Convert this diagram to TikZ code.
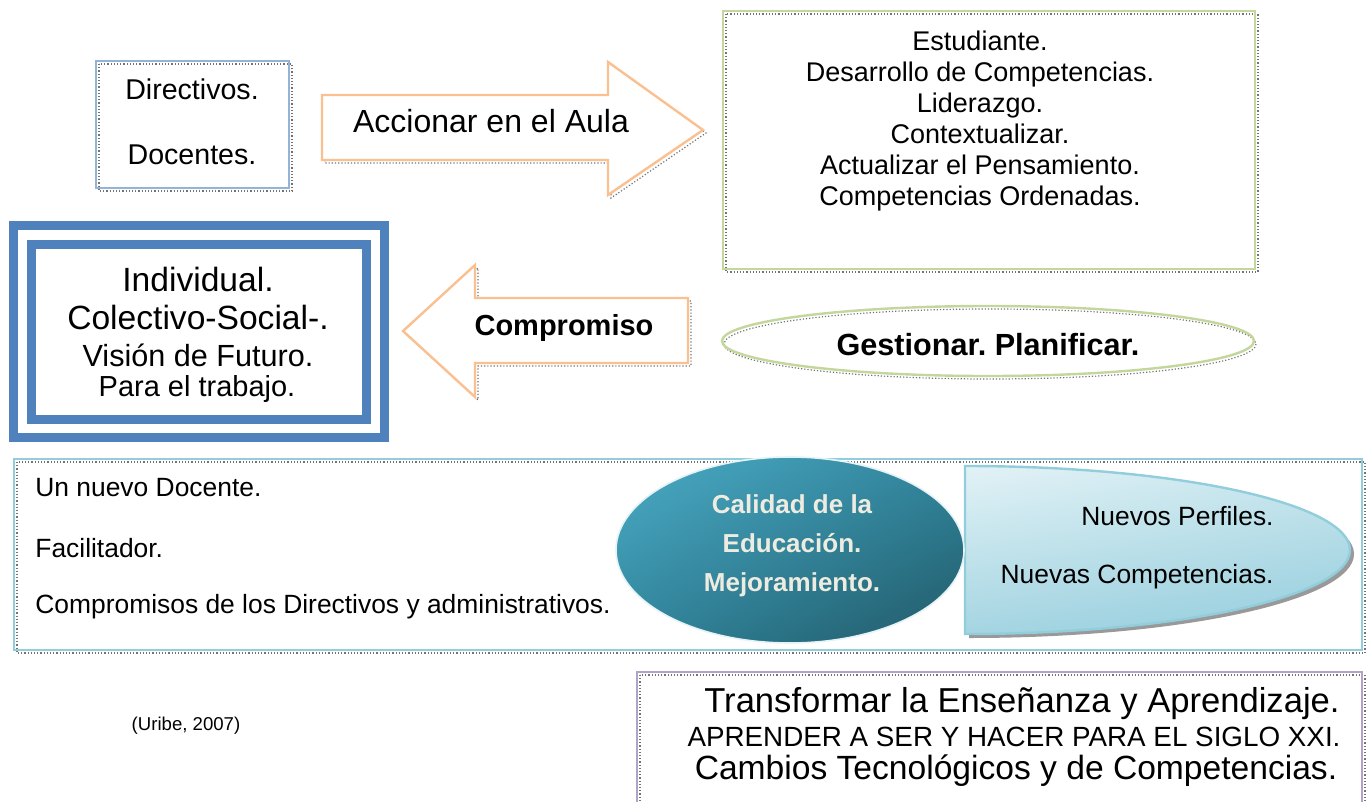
\documentclass[tikz,border=0pt]{standalone}
\usepackage{fontspec}
\setmainfont{Liberation Sans}
\definecolor{paleblue}{HTML}{95B3D7}
\definecolor{peach}{HTML}{FAC090}
\definecolor{sage}{HTML}{C3D69B}
\definecolor{royal}{HTML}{4F81BD}
\definecolor{aqua}{HTML}{92CDDC}
\definecolor{lilac}{HTML}{B3A2C7}
\definecolor{tealhi}{HTML}{4BACC6}
\definecolor{tealmid}{HTML}{31859C}
\definecolor{tealdark}{HTML}{215968}
\definecolor{icehi}{HTML}{E2F2F6}
\definecolor{icelo}{HTML}{A5D5E2}
\definecolor{cream}{HTML}{EEECE1}
\newcommand\fs[2]{\fontsize{#1}{#2}\selectfont}
\usetikzlibrary{positioning, shadings}
\frenchspacing

\begin{document}
\begin{tikzpicture}[x=0.5pt, y=-0.5pt,
    frame/.style={line width=1.2pt},
    shade line/.style={draw=black!55, line width=0.6pt, densely dotted},
    txt/.style={inner sep=0pt, align=center}]
    \clip (0,0) rectangle (1369,802);
    \fill[white] (0,0) rectangle (1369,802);

    % top left box
    \draw[shade line] (99,64) rectangle (292,191);
    \draw[frame, draw=paleblue] (96,61) rectangle (289,188);
    \node[txt, font=\fs{14.3}{17}] (dir) at (192,89) {Directivos.};
    \node[txt, font=\fs{14.3}{17}] (doc) at (192,155) {Docentes.};

    % arrow to the right
    \draw[shade line] (325,98) -- (611,98) -- (611,65) -- (706,133) -- (611,198) -- (611,163) -- (325,163) -- cycle;
    \draw[frame, draw=peach, fill=white] (322,95) -- (608,95) -- (608,62) -- (703,130) -- (608,195) -- (608,160) -- (322,160) -- cycle;
    \node[txt, font=\fs{16}{19}] (aula) at (491,121) {Accionar en el Aula};

    % top right box
    \draw[shade line] (726,14) rectangle (1258,272);
    \draw[frame, draw=sage] (723,11) rectangle (1255,269);
    \node[txt, font=\fs{13.5}{15.5}] (estud) at (980,121) {Estudiante.\\Desarrollo de Competencias.\\Liderazgo.\\Contextualizar.\\Actualizar el Pensamiento.\\Competencias Ordenadas.};

    % double frame
    \draw[line width=4.5pt, draw=royal] (13,226) rectangle (384,437);
    \draw[line width=4.5pt, draw=royal] (31,244) rectangle (366,419);
    \node[txt, font=\fs{16.8}{19}] (indiv) at (198,279) {Individual.};
    \node[txt, font=\fs{16.8}{19}] (colec) at (198,317) {Colectivo-Social-.};
    \node[txt, font=\fs{15.3}{18}] (vision) at (198,355) {Visión de Futuro.};
    \node[txt, font=\fs{14.5}{17}] (trab) at (197,389) {Para el trabajo.};

    % arrow to the left
    \draw[shade line] (406,334) -- (478,268) -- (478,301) -- (691,301) -- (691,366) -- (478,366) -- (478,400) -- cycle;
    \draw[frame, draw=peach, fill=white] (403,331) -- (475,265) -- (475,298) -- (688,298) -- (688,363) -- (475,363) -- (475,397) -- cycle;
    \node[txt, font=\bfseries\fs{14.5}{17}] (compr) at (564,328) {Compromiso};

    % ellipse
    \draw[shade line] (990,344) ellipse[x radius=266, y radius=35];
    \draw[frame, draw=sage] (988,341) ellipse[x radius=266, y radius=35];
    \node[txt, font=\bfseries\fs{15.3}{18}] (gest) at (988,345) {Gestionar. Planificar.};

    % wide box
    \draw[shade line] (17,462) rectangle (1365,653);
    \draw[frame, draw=aqua] (14,459) rectangle (1362,650);
    \node[txt, anchor=west, font=\fs{13.2}{16}] (nuevo) at (35,488) {Un nuevo Docente.};
    \node[txt, anchor=west, font=\fs{13.2}{16}] (facil) at (35,548) {Facilitador.};
    \node[txt, anchor=west, font=\fs{13.2}{16}] (admin) at (35,607) {Compromisos de los Directivos y administrativos.};

    % pale shape and teal ellipse
    \fill[black!40] (969,470) arc[start angle=-90, end angle=90, x radius=385, y radius=84] -- cycle;
    \shade[upper left=icehi, upper right=icehi!60!icelo, lower left=icelo, lower right=icelo!80!tealhi]
        (965,466) arc[start angle=-90, end angle=90, x radius=385, y radius=84] -- cycle;
    \draw[frame, draw=aqua] (965,466) arc[start angle=-90, end angle=90, x radius=385, y radius=84] -- cycle;
    \shade[upper left=tealhi, upper right=tealmid, lower left=tealmid, lower right=tealdark]
        (790,550) ellipse[x radius=174, y radius=93];
    \draw[white!85!tealhi, line width=0.8pt] (790,550) ellipse[x radius=174, y radius=93];
    \node[txt, text=cream, font=\bfseries\fs{13}{19.5}] (calid) at (792,546) {Calidad de la\\Educación.\\Mejoramiento.};
    \node[txt, anchor=east, font=\fs{13.2}{16}] (perf) at (1274,516) {Nuevos Perfiles.};
    \node[txt, anchor=east, font=\fs{13.2}{16}] (compet) at (1274,577) {Nuevas Competencias.};

    % bottom box
    \draw[shade line] (640,675) rectangle (1365,830);
    \draw[frame, draw=lilac] (637,672) rectangle (1362,830);
    \node[txt, font=\fs{17.3}{20}] (transf) at (1022,704) {Transformar la Enseñanza y Aprendizaje.};
    \node[txt, font=\fs{13.9}{17}] (siglo) at (1014,737) {APRENDER A SER Y HACER PARA EL SIGLO XXI.};
    \node[txt, font=\fs{16.8}{20}] (cambio) at (1016,771) {Cambios Tecnológicos y de Competencias.};

    \node[txt, font=\fs{9.3}{11}] (uribe) at (186,726) {(Uribe, 2007)};
\end{tikzpicture}
\end{document}
